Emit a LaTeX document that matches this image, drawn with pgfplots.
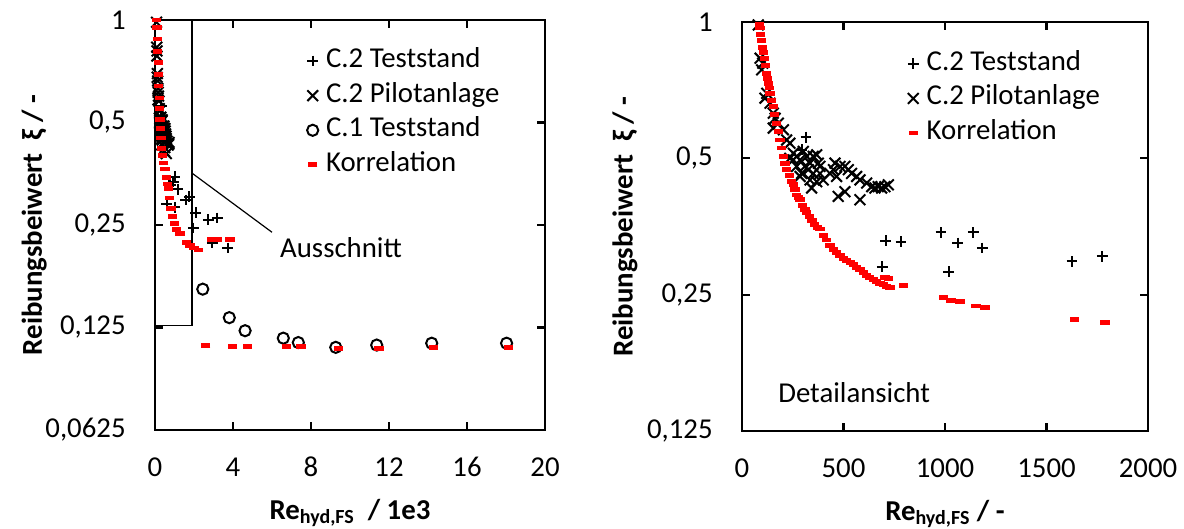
\documentclass[border=0pt]{standalone}
\usepackage{fontspec}
\setmainfont{Carlito}
\usepackage{pgfplots}
\pgfplotsset{compat=1.18}

\tikzset{
  plusm/.style={only marks, mark=+, mark size=2.7pt, line width=1pt, black},
  crossm/.style={only marks, mark=x, mark size=3.8pt, line width=1pt, black},
  circm/.style={only marks, mark=o, mark size=2.8pt, line width=1pt, black},
  korrm/.style={only marks, mark=-, mark size=2.3pt, line width=2.4pt, red},
}
\pgfplotsset{
  every axis/.append style={
    scale only axis,
    axis line style={line width=1.3pt},
    major tick style={line width=1.1pt, black},
    major tick length=4pt,
    tick align=inside,
    tick label style={font=\fontsize{14.4}{17}\selectfont},
    yticklabel style={anchor=east, inner sep=0pt, xshift=-14.5pt},
    xticklabel style={anchor=center, inner sep=0pt, yshift=-18.5pt},
    label style={font=\bfseries\fontsize{14.4}{17}\selectfont},
    xlabel style={at={(axis description cs:0.5,0)}, anchor=base, yshift=-44.5pt},
    legend cell align=left,
    legend style={draw=none, fill=none, anchor=north west, inner sep=0pt, outer sep=0pt,
      font=\fontsize{14.4}{17}\selectfont,
      nodes={inner sep=2.4pt, text height=9.5pt, text depth=3pt}},
  },
}

\begin{document}
\begin{tikzpicture}
\path[use as bounding box] (-77.5pt,-49.5pt) rectangle (514.5pt,215pt);

% ---------------- left panel ----------------
\begin{axis}[
  at={(0pt,0pt)}, anchor=south west,
  width=195pt, height=205pt,
  ymode=log, log basis y=2,
  xmin=0, xmax=20, xtick={0,4,8,12,16,20},
  xticklabels={0,4,8,12,16,20},
  ymin=0.0625, ymax=1,
  ytick={0.0625,0.125,0.25,0.5,1},
  yticklabels={{0,0625},{0,125},{0,25},{0,5},1},
  minor ytick={},
  xlabel={Re\textsubscript{hyd,FS}~~/ 1e3},
  ylabel={Reibungsbeiwert~~ξ / -},
  ylabel style={at={(axis description cs:-0.31,0.5)}, anchor=center},
  legend style={at={(0.39,0.942)}},
  legend image code/.code={\draw[#1] plot coordinates {(0pt,0pt)}; \path[draw=none] (-2.8pt,0pt) (4.3pt,0pt);},
]
\addplot[plusm] coordinates {
(0.29,0.52) (0.32,0.56) (0.60,0.288) (0.72,0.33) (0.78,0.327) (0.94,0.335)
(1.03,0.347) (1.16,0.318) (1.03,0.282) (1.57,0.296) (1.76,0.303) (2.09,0.272)
(1.96,0.245) (2.73,0.259) (3.19,0.262) (2.94,0.222) (3.72,0.214)
};
\addlegendentry{C.2 Teststand}
\addplot[crossm] coordinates {
(0.080,0.985) (0.089,0.832) (0.097,0.784) (0.102,0.811) (0.113,0.679) (0.122,0.696)
(0.138,0.662) (0.154,0.629) (0.163,0.613) (0.179,0.598) (0.154,0.583) (0.204,0.578)
(0.220,0.549) (0.236,0.540) (0.253,0.513) (0.269,0.505) (0.286,0.496) (0.302,0.518)
(0.319,0.505) (0.335,0.488) (0.351,0.505) (0.368,0.509) (0.376,0.488) (0.286,0.456)
(0.335,0.448) (0.351,0.463) (0.384,0.463) (0.400,0.448) (0.433,0.463) (0.450,0.472)
(0.466,0.456) (0.483,0.480) (0.507,0.480) (0.524,0.472) (0.540,0.463) (0.565,0.456)
(0.581,0.448) (0.614,0.441) (0.639,0.433) (0.655,0.430) (0.671,0.433) (0.688,0.430)
(0.704,0.433) (0.721,0.437) (0.474,0.412) (0.507,0.422) (0.581,0.405) (0.269,0.480)
(0.253,0.496) (0.236,0.500) (0.294,0.463) (0.310,0.480) (0.327,0.472) (0.368,0.444)
(0.343,0.430) (0.384,0.480) (0.458,0.488)
};
\addlegendentry{C.2 Pilotanlage}
\addplot[circm] coordinates {
(2.45,0.162) (3.81,0.1336) (4.62,0.1223) (6.58,0.1163) (7.35,0.1129)
(9.27,0.1093) (11.37,0.111) (14.19,0.1124) (18.03,0.1124)
};
\addlegendentry{C.1 Teststand}
\addplot[korrm] coordinates {
(0.08,1.0) (0.10,0.95) (0.12,0.88) (0.14,0.81) (0.16,0.75) (0.18,0.69)
(0.20,0.64) (0.22,0.59) (0.24,0.55) (0.26,0.51) (0.28,0.48) (0.31,0.45)
(0.35,0.42) (0.40,0.40) (0.45,0.38) (0.51,0.365) (0.57,0.345) (0.63,0.33)
(0.68,0.32) (0.75,0.30) (0.82,0.28) (0.90,0.265) (1.0,0.252) (1.12,0.242)
(1.28,0.236) (1.6,0.222) (1.79,0.218) (2.0,0.214) (2.22,0.211)
(2.9,0.227) (3.2,0.227) (3.85,0.227)
(2.6,0.1105) (3.98,0.110) (4.75,0.110) (6.75,0.110) (7.49,0.110)
(9.4,0.1085) (11.49,0.1085) (14.27,0.109) (18.12,0.109)
};
\addlegendentry{Korrelation}
\draw[line width=0.6pt] (axis cs:0,0.127) rectangle (axis cs:1.9,1);
\draw[line width=0.6pt] (axis cs:1.9,0.355) -- (axis cs:6.0,0.238);
\node[anchor=west, inner sep=0pt, font=\fontsize{14.4}{17}\selectfont] at (axis cs:6.4,0.215) {Ausschnitt};
\end{axis}

% ---------------- right panel ----------------
\begin{axis}[
  at={(293.5pt,-0.5pt)}, anchor=south west,
  width=203pt, height=204.5pt,
  ymode=log, log basis y=2,
  xmin=0, xmax=2000, xtick={0,500,1000,1500,2000},
  xticklabels={0,500,1000,1500,2000},
  ymin=0.125, ymax=1,
  ytick={0.125,0.25,0.5,1},
  yticklabels={{0,125},{0,25},{0,5},1},
  minor ytick={},
  xlabel={Re\textsubscript{hyd,FS} / -},
  ylabel={Reibungsbeiwert~~ξ / -},
  ylabel style={at={(axis description cs:-0.288,0.5)}, anchor=center},
  legend style={at={(0.408,0.94)}},
  legend image code/.code={\draw[#1] plot coordinates {(0pt,0pt)}; \path[draw=none] (-2.8pt,0pt) (4.3pt,0pt);},
]
\addplot[plusm] coordinates {
(294,0.522) (315,0.557) (691,0.288) (708,0.329) (783,0.327) (980,0.343)
(1018,0.281) (1063,0.325) (1139,0.343) (1184,0.317) (1626,0.296) (1775,0.304)
};
\addlegendentry{C.2 Teststand}
\addplot[crossm] coordinates {
(80,0.985) (89,0.832) (97,0.784) (102,0.811) (113,0.679) (122,0.696)
(138,0.662) (154,0.629) (163,0.613) (179,0.598) (154,0.583) (204,0.578)
(220,0.549) (236,0.540) (253,0.513) (269,0.505) (286,0.496) (302,0.518)
(319,0.505) (335,0.488) (351,0.505) (368,0.509) (376,0.488) (286,0.456)
(335,0.448) (351,0.463) (384,0.463) (400,0.448) (433,0.463) (450,0.472)
(466,0.456) (483,0.480) (507,0.480) (524,0.472) (540,0.463) (565,0.456)
(581,0.448) (614,0.441) (639,0.433) (655,0.430) (671,0.433) (688,0.430)
(704,0.433) (721,0.437) (474,0.412) (507,0.422) (581,0.405) (269,0.480)
(253,0.496) (236,0.500) (294,0.463) (310,0.480) (327,0.472) (368,0.444)
(343,0.430) (384,0.480) (458,0.488)
};
\addlegendentry{C.2 Pilotanlage}
\addplot[korrm] coordinates {
(87,0.99) (89,0.97) (93,0.94) (97,0.91) (101,0.88) (105,0.855) (110,0.83)
(116,0.80) (122,0.77) (126,0.75) (130,0.733) (134,0.715) (138,0.696)
(146,0.672) (154,0.65) (162,0.624) (171,0.598) (179,0.573) (187,0.549)
(195,0.527) (204,0.505) (212,0.488) (220,0.472) (232,0.458) (245,0.445)
(253,0.437) (261,0.426) (269,0.415) (277,0.41) (286,0.405) (298,0.394)
(310,0.386) (319,0.380) (332,0.372) (345,0.364) (358,0.357) (371,0.352)
(384,0.349) (400,0.338) (416,0.330) (433,0.321) (450,0.314) (466,0.310)
(483,0.305) (500,0.301) (516,0.298) (533,0.294) (549,0.291) (565,0.287)
(581,0.284) (598,0.280) (614,0.276) (630,0.273) (647,0.270) (663,0.267)
(680,0.265) (696,0.263) (712,0.261) (729,0.259)
(704,0.273) (720,0.271) (795,0.262) (992,0.246) (1030,0.243) (1074,0.241)
(1153,0.236) (1197,0.234) (1637,0.220) (1788,0.217)
};
\addlegendentry{Korrelation}
\node[anchor=west, inner sep=0pt, font=\fontsize{14.4}{17}\selectfont] at (axis cs:177,0.152) {Detailansicht};
\end{axis}
\end{tikzpicture}
\end{document}
